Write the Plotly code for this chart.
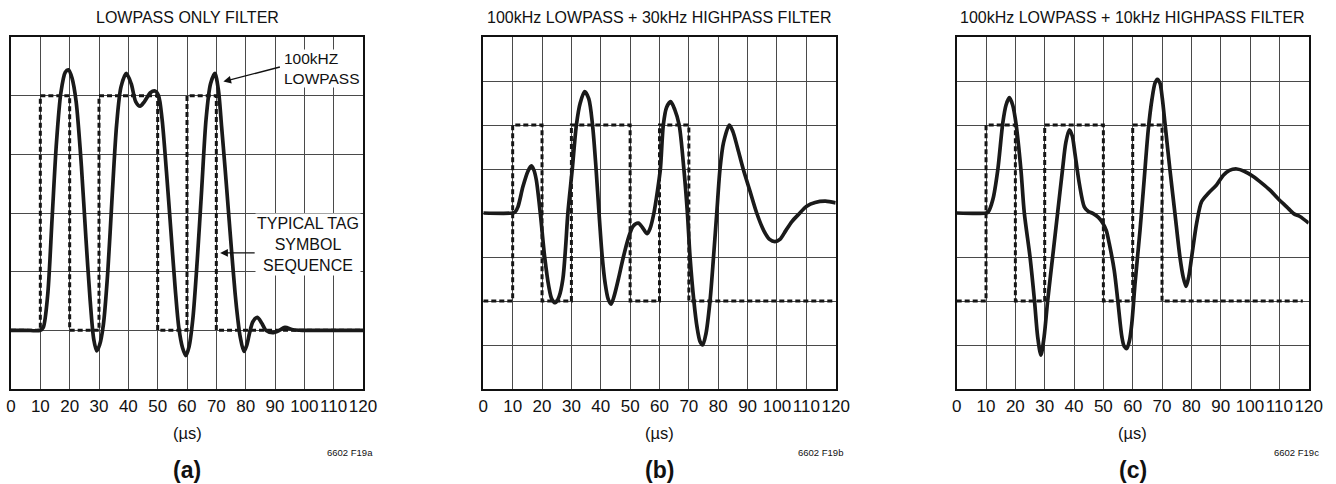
import plotly.graph_objects as go

# ---------------- data ----------------
x_ticks = [0, 10, 20, 30, 40, 50, 60, 70, 80, 90, 100, 110, 120]
tick_labels = [str(v) for v in x_ticks]

# Panel (a) : lowpass only
sq_a_x = [0, 10, 10, 20, 20, 30, 30, 50, 50, 60, 60, 70, 70, 120]
sq_a_y = [1, 1, 5, 5, 1, 1, 5, 5, 1, 1, 5, 5, 1, 1]
lp_a_x = [0, 5, 10, 11, 12.5, 14, 15.5, 17, 18.5, 19.6, 20.8, 22.2, 24, 25.5, 27, 28.2, 29.2,
          30.2, 31.5, 33, 34.5, 36, 37.5, 39.3, 41, 42.5, 44, 45.5, 47.5, 49.1, 50.3, 51.5, 53,
          54.5, 56, 57.2, 58.5, 59.6, 60.7, 62, 63.5, 65, 66.5, 68, 69.5, 70.7, 71.8, 73, 74.1,
          75.2, 76.4, 77.3, 78.1, 79.4, 80.4, 81.3, 82.5, 84.0, 85.5, 86.9, 89.2, 91.5, 93.4,
          96.2, 100, 110, 120]
lp_a_y = [1, 1, 1, 1.05, 1.6, 2.9, 4.2, 5.05, 5.4, 5.44, 5.3, 4.9, 3.8, 2.6, 1.5, 0.85, 0.65,
          0.75, 1.1, 2.0, 3.3, 4.5, 5.15, 5.38, 5.2, 4.9, 4.82, 4.9, 5.05, 5.08, 5.0, 4.6, 3.7,
          2.7, 1.7, 1.05, 0.7, 0.57, 0.72, 1.2, 2.2, 3.4, 4.6, 5.2, 5.38, 5.1, 4.47, 3.75, 3.05,
          2.35, 1.63, 1.2, 0.9, 0.64, 0.75, 0.95, 1.15, 1.22, 1.12, 1.0, 0.96, 1.0, 1.05,
          1.01, 1.0, 1.0, 1.0]

# Panel (b) : 100kHz lowpass + 30kHz highpass
sq_b_x = [0, 10, 10, 20, 20, 30, 30, 50, 50, 60, 60, 70, 70, 119]
sq_b_y = [2, 2, 6, 6, 2, 2, 6, 6, 2, 2, 6, 6, 2, 2]
hp30_x = [0, 10, 10.8, 11.8, 13.5, 15.2, 16.35, 17.2, 18.05, 19.4, 20.9, 22.3, 23.3, 24.5,
          25.8, 27.1, 28, 28.8, 30.3, 31.7, 33, 34.5, 35.9, 37.2, 38.4, 39.4, 40.5, 41.5, 42.5,
          43.5, 44.5, 46, 47.7, 49.5, 51, 52.8, 54.3, 55.8, 56.8, 58.1, 59.3, 60.3, 61.3, 62.4,
          63.8, 65.2, 66.7, 68.3, 69.5, 70.4, 71.7, 72.8, 73.8, 74.7, 75.8, 77.2, 78.4, 79.5,
          80.6, 81.8, 83.8, 85, 86.5, 88.5, 90.8, 93.1, 95.5, 97.5, 99.3, 101, 103, 105, 107.8,
          110, 113, 116.5, 120]
hp30_y = [4, 4, 4.02, 4.14, 4.6, 4.95, 5.07, 4.98, 4.75, 4.0, 3.0, 2.33, 2.05, 1.96,
          2.1, 2.5, 3.2, 4.0, 5.0, 6.0, 6.5, 6.76, 6.6, 6.0, 5.0, 4.0, 3.0, 2.4, 2.05,
          1.93, 2.1, 2.5, 3.0, 3.45, 3.7, 3.77, 3.66, 3.53, 3.65, 4.0, 4.5, 5.0, 6.0, 6.4,
          6.53, 6.35, 6.0, 5.0, 4.0, 3.0, 2.0, 1.4, 1.08, 1.0, 1.25, 2.0, 3.0, 4.0,
          5.0, 5.6, 6.0, 5.85, 5.5, 5.0, 4.5, 4.0, 3.6, 3.4, 3.35, 3.4, 3.6, 3.8, 4.0,
          4.15, 4.24, 4.27, 4.23]

# Panel (c) : 100kHz lowpass + 10kHz highpass
sq_c_x = [0, 10, 10, 20, 20, 30, 30, 50, 50, 60, 60, 70, 70, 118]
sq_c_y = [2, 2, 6, 6, 2, 2, 6, 6, 2, 2, 6, 6, 2, 2]
hp10_x = [0, 10, 10.8, 12.3, 14.0, 15.7, 16.8, 17.95, 19.1, 20.2, 21.9, 23.05, 25.0, 26.5,
          27.6, 28.7, 29.8, 31.0, 32.7, 34.4, 36.1, 37.2, 38.4, 39.4, 40.3, 41.8, 43.5, 44.8,
          46.4, 48.3, 49.8, 51, 52.0, 53.7, 54.9, 56.3, 57.1, 58.0, 58.9, 59.7, 60.8, 62.5,
          63.9, 65.3, 66.6, 67.6, 68.4, 69.3, 70.1, 71.0, 72.7, 74.4, 76.1, 77.2, 78.2, 79.1,
          80.1, 81.8, 83.5, 85.8, 88.6, 90.9, 93, 95.5, 98, 101.1, 104, 106.8, 109.5, 112.5,
          115, 117.0, 120]
hp10_y = [4, 4, 4.03, 4.3, 4.98, 6.04, 6.45, 6.62, 6.45, 6.04, 4.98, 4.0, 3.0, 2.02,
          1.19, 0.77, 1.19, 2.0, 3.0, 4.0, 5.0, 5.6, 5.89, 5.75, 5.36, 4.67, 4.14, 4.04,
          3.99, 3.9, 3.77, 3.6, 3.31, 2.7, 2.02, 1.19, 0.97, 0.92, 1.1, 1.49, 2.4, 3.61,
          4.75, 5.89, 6.6, 6.95, 7.04, 6.95, 6.6, 6.04, 4.98, 3.99, 3.0, 2.55, 2.33, 2.55,
          3.0, 3.77, 4.26, 4.45, 4.64, 4.86, 4.97, 5.0, 4.95, 4.83, 4.68, 4.52, 4.33, 4.14,
          3.98, 3.92, 3.77]

titles = ["LOWPASS ONLY FILTER",
          "100kHz LOWPASS + 30kHz HIGHPASS FILTER",
          "100kHz LOWPASS + 10kHz HIGHPASS FILTER"]
fig_codes = ["6602 F19a", "6602 F19b", "6602 F19c"]
panel_tags = ["(a)", "(b)", "(c)"]
unit_label = "(µs)"
callout_lowpass = "100kHZ<br>LOWPASS"
callout_symbol = "TYPICAL TAG<br>SYMBOL<br>SEQUENCE"

# ---------------- layout ----------------
W, H = 1336, 484
FONT = "Liberation Sans Narrow, Arial Narrow, Liberation Sans, Arial, sans-serif"
plot_px = [(11, 363), (483.3, 835.7), (956.7, 1308.7)]
top_px, bot_px = 37, 389
y_max = [6, 8, 8]

fig = go.Figure()
panels = [(sq_a_x, sq_a_y, lp_a_x, lp_a_y), (sq_b_x, sq_b_y, hp30_x, hp30_y),
          (sq_c_x, sq_c_y, hp10_x, hp10_y)]

for i, (sx, sy, cx, cy) in enumerate(panels):
    n = "" if i == 0 else str(i + 1)
    xa, ya = "x" + n, "y" + n
    fig.add_trace(go.Scatter(x=sx, y=sy, mode="lines", xaxis=xa, yaxis=ya,
                             line=dict(color="#151515", width=3.0, dash="5px,3px"),
                             showlegend=False, hoverinfo="skip"))
    fig.add_trace(go.Scatter(x=cx, y=cy, mode="lines", xaxis=xa, yaxis=ya,
                             line=dict(color="#1a1a1a", width=3.7, shape="spline", smoothing=0.8),
                             showlegend=False, hoverinfo="skip"))
    x0, x1 = plot_px[i]
    fig.layout["xaxis" + n] = dict(
        domain=[x0 / W, x1 / W], range=[0, 120], tickvals=x_ticks, ticktext=tick_labels,
        showgrid=True, gridcolor="#4a4a4a", gridwidth=1, zeroline=False,
        showline=True, mirror=True, linecolor="#111", linewidth=2.2,
        ticks="", tickangle=0, automargin=False,
        tickfont=dict(family=FONT, size=17, color="#111"),
        anchor=ya, fixedrange=True)
    fig.layout["yaxis" + n] = dict(
        domain=[(H - bot_px) / H, (H - top_px) / H], range=[0, y_max[i]], dtick=1,
        showgrid=True, gridcolor="#4a4a4a", gridwidth=1, zeroline=False,
        showline=True, mirror=True, linecolor="#111", linewidth=2.2, automargin=False,
        showticklabels=False, ticks="", anchor=xa, fixedrange=True)
    cxp = (x0 + x1) / 2 / W
    fig.add_annotation(text=titles[i], x=cxp, y=1 - 18 / H, xref="paper", yref="paper",
                       showarrow=False, xanchor="center", yanchor="middle",
                       font=dict(family=FONT, size=16, color="#111"))
    fig.add_annotation(text=unit_label, x=cxp, y=1 - 433 / H, xref="paper", yref="paper",
                       showarrow=False, xanchor="center", yanchor="middle",
                       font=dict(family=FONT, size=16.5, color="#111"))
    fig.add_annotation(text=panel_tags[i], x=cxp, y=1 - 470 / H, xref="paper", yref="paper",
                       showarrow=False, xanchor="center", yanchor="middle",
                       font=dict(family=FONT, size=23, color="#111", weight="bold"))

code_px = [350, 820, 1296]
for i in range(3):
    fig.add_annotation(text=fig_codes[i], x=code_px[i] / W, y=1 - 452 / H, xref="paper",
                       yref="paper", showarrow=False, xanchor="center", yanchor="middle",
                       font=dict(family=FONT, size=9.5, color="#111"))

# callout texts on panel (a)
fig.add_annotation(text=callout_lowpass, x=92.7, y=5.46, xref="x", yref="y",
                   xanchor="left", yanchor="middle", showarrow=False, align="left",
                   bgcolor="white", borderpad=0,
                   font=dict(family=FONT, size=15.5, color="#111"))
fig.add_annotation(text=callout_symbol, x=101.1, y=2.46, xref="x", yref="y",
                   xanchor="center", yanchor="middle", showarrow=False, align="center",
                   bgcolor="white", borderpad=1,
                   font=dict(family=FONT, size=16, color="#111"))
# callout arrows
fig.add_annotation(text=" ", x=72.4, y=5.24, xref="x", yref="y", ax=58, ay=-15,
                   showarrow=True, arrowhead=2, arrowsize=1.1, arrowwidth=1.4,
                   arrowcolor="#111", font=dict(size=1))
fig.add_annotation(text=" ", x=71.3, y=2.32, xref="x", yref="y", ax=36, ay=0,
                   showarrow=True, arrowhead=2, arrowsize=1.1, arrowwidth=1.4,
                   arrowcolor="#111", font=dict(size=1))

fig.update_layout(width=W, height=H, margin=dict(l=0, r=0, t=0, b=0, autoexpand=False),
                  paper_bgcolor="white", plot_bgcolor="white",
                  font=dict(family=FONT, color="#111"))

fig.write_html("out.html", config={"displayModeBar": False},
               post_script="document.body.style.margin='0px';")
